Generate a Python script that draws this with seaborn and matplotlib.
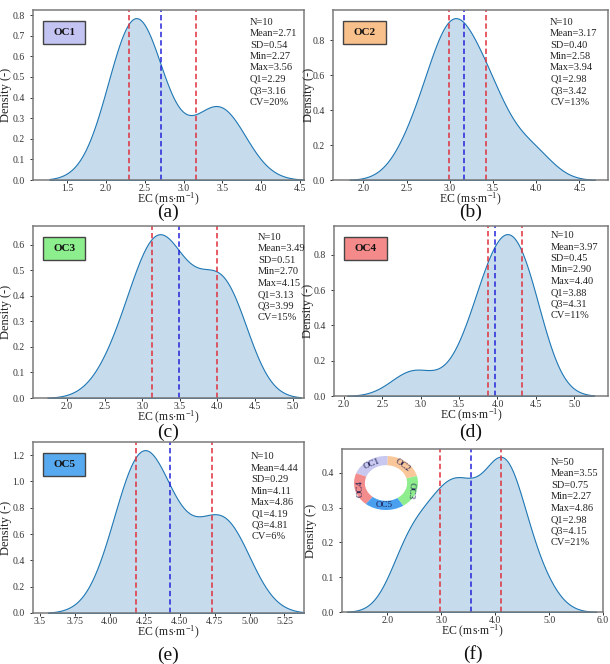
import numpy as np
import pandas as pd
import matplotlib
matplotlib.use("Agg")
import matplotlib.pyplot as plt
import seaborn as sns
from matplotlib.patches import Rectangle
from matplotlib.ticker import FormatStrFormatter, FixedLocator, FixedFormatter, MultipleLocator

# ---------------- data ----------------
groups = ["OC1", "OC2", "OC3", "OC4", "OC5"]
oc1 = [2.27, 2.28, 2.28, 2.33, 2.44, 2.54, 2.60, 3.35, 3.45, 3.56]
oc2 = [2.58, 2.80, 2.96, 3.04, 3.05, 3.08, 3.30, 3.46, 3.50, 3.94]
oc3 = [2.70, 3.05, 3.10, 3.22, 3.30, 3.45, 3.75, 4.07, 4.11, 4.15]
oc4 = [2.90, 3.60, 3.85, 3.97, 4.00, 4.04, 4.25, 4.33, 4.36, 4.40]
oc5 = [4.11, 4.17, 4.20, 4.25, 4.30, 4.36, 4.55, 4.78, 4.84, 4.86]

stat_n = ["10", "10", "10", "10", "10", "50"]
stat_mean = ["2.71", "3.17", "3.49", "3.97", "4.44", "3.55"]
stat_sd = ["0.54", "0.40", "0.51", "0.45", "0.29", "0.75"]
stat_min = ["2.27", "2.58", "2.70", "2.90", "4.11", "2.27"]
stat_max = ["3.56", "3.94", "4.15", "4.40", "4.86", "4.86"]
stat_q1 = ["2.29", "2.98", "3.13", "3.88", "4.19", "2.98"]
stat_q3 = ["3.16", "3.42", "3.99", "4.31", "4.81", "4.15"]
stat_cv = ["20%", "13%", "15%", "11%", "6%", "21%"]

q1_line = [2.29, 2.99, 3.13, 3.88, 4.19, 2.98]
mean_line = [2.71, 3.17, 3.49, 3.97, 4.43, 3.55]
q3_line = [3.16, 3.42, 3.99, 4.32, 4.73, 4.11]

panel_letters = ["(a)", "(b)", "(c)", "(d)", "(e)", "(f)"]
box_colors = ["#c4c4f2", "#f8c08a", "#8cee8c", "#f48a8a", "#58aaf0"]
ring_order = ["OC2", "OC1", "OC4", "OC5", "OC3"]
ring_colors = ["#f9c79a", "#c8c8f0", "#f38c8c", "#4aa0ee", "#8eee8e"]
ring_rot = [-36, 22, 92, 0, -95]

e_ticks = [3.5, 3.75, 4.0, 4.25, 4.5, 4.75, 5.0, 5.25]
e_ticklabels = ["3.5", "3.75", "4.00", "4.25", "4.50", "4.75", "5.00", "5.25"]
y_steps = [0.1, 0.2, 0.1, 0.2, 0.2, 0.1]

xlims = [(1.06, 4.55), (1.65, 4.83), (1.55, 5.15), (1.87, 5.44), (3.45, 5.39), (1.16, 6.0)]

# ---------------- style ----------------
sns.set_theme(style="white")
plt.rcParams["font.family"] = ["Liberation Serif", "DejaVu Serif"]
plt.rcParams["mathtext.fontset"] = "custom"
plt.rcParams["mathtext.rm"] = "Liberation Serif"
plt.rcParams["mathtext.it"] = "Liberation Serif:italic"
plt.rcParams["mathtext.bf"] = "Liberation Serif:bold"

W, H = 610, 664
fig = plt.figure(figsize=(W / 100, H / 100), dpi=100)

# pixel boxes (left, top, right, bottom)
boxes = [(33, 10, 304, 180), (333, 10, 608, 180),
         (33, 226, 304, 398), (334, 226, 608, 396),
         (33, 442, 304, 613), (342, 449, 603, 612)]
ylab_x = [-0.077, -0.065, -0.077, -0.072, -0.077, -0.094]
letter_y = [212, 212, 432, 432, 655, 654]
stat_xy = [(0.80, 0.955), (0.79, 0.955), (0.83, 0.96), (0.79, 0.97), (0.805, 0.94), (0.80, 0.945)]

all_df = pd.DataFrame({
    "EC": oc1 + oc2 + oc3 + oc4 + oc5,
    "group": sum([[g] * 10 for g in groups], []),
})
datasets = [oc1, oc2, oc3, oc4, oc5, all_df["EC"].tolist()]

for i, data in enumerate(datasets):
    l, t, r, b = boxes[i]
    ax = fig.add_axes([l / W, 1 - b / H, (r - l) / W, (b - t) / H])
    sns.kdeplot(x=data, fill=True, ax=ax, color="#1f77b4", alpha=0.25, linewidth=0.8)
    ax.axvline(q1_line[i], color="#e0303c", ls=(0, (3.5, 2)), lw=1.1)
    ax.axvline(mean_line[i], color="#2424d8", ls=(0, (3.5, 2)), lw=1.1)
    ax.axvline(q3_line[i], color="#e0303c", ls=(0, (3.5, 2)), lw=1.1)
    ax.set_xlim(*xlims[i])
    ax.yaxis.set_major_locator(MultipleLocator(y_steps[i]))
    ax.yaxis.set_major_formatter(FormatStrFormatter("%.1f"))
    ax.set_xlabel(r"EC (ms$\cdot$m$^{-1}$)", fontsize=8.5, color="#222222")
    ax.xaxis.set_label_coords(0.5, -11 / (b - t))
    ax.set_ylabel("Density (-)", fontsize=9, color="#222222")
    ax.yaxis.set_label_coords(ylab_x[i], 0.5)
    ax.tick_params(axis="both", labelsize=7, colors="#333333", length=2, width=0.7, pad=1)
    ax.tick_params(axis="y", pad=4)
    ax.tick_params(bottom=True, left=True)
    for s in ax.spines.values():
        s.set_color("#7a7a7a")
        s.set_linewidth(1.1)
    if i == 4:
        ax.xaxis.set_major_locator(FixedLocator(e_ticks))
        ax.xaxis.set_major_formatter(FixedFormatter(e_ticklabels))
    if i == 5:
        ax.xaxis.set_major_formatter(FormatStrFormatter("%.1f"))
    txt = "\n".join([
        f"N={stat_n[i]}", f"Mean={stat_mean[i]}", f"SD={stat_sd[i]}",
        f"Min={stat_min[i]}", f"Max={stat_max[i]}", f"Q1={stat_q1[i]}",
        f"Q3={stat_q3[i]}", f"CV={stat_cv[i]}"])
    ax.text(stat_xy[i][0], stat_xy[i][1], txt, transform=ax.transAxes, ha="left", va="top",
            fontsize=7.5, linespacing=1.35, color="#222222")
    if i < 5:
        ax.add_patch(Rectangle((0.038, 0.8), 0.155, 0.135, transform=ax.transAxes,
                               facecolor=box_colors[i], edgecolor="#444444", lw=1.0, zorder=5))
        ax.text(0.038 + 0.0775, 0.8 + 0.0675, groups[i], transform=ax.transAxes,
                ha="center", va="center", fontsize=8, fontweight="bold", color="#111111", zorder=6)
    fig.text((l + r) / 2 / W, 1 - letter_y[i] / H, panel_letters[i], ha="center", va="center",
             fontsize=14, color="#111111")

# donut inset in panel f
cx, cy, rx, ry = 386, 483, 32, 27
iax = fig.add_axes([(cx - rx) / W, 1 - (cy + ry) / H, 2 * rx / W, 2 * ry / H])
iax.pie([1] * len(ring_order), colors=ring_colors, startangle=15, counterclock=True,
        radius=1.0, wedgeprops=dict(width=0.34, edgecolor="none"))
iax.set_aspect("auto")
iax.set_xlim(-1, 1)
iax.set_ylim(-1, 1)
iax.axis("off")
for k, name in enumerate(ring_order):
    th = np.deg2rad(15 + 72 * k + 36)
    iax.text(0.83 * np.cos(th), 0.83 * np.sin(th), name, ha="center", va="center",
             rotation=ring_rot[k], fontsize=6.5, color="#1c1c50")

fig.savefig("out.png", dpi=100)
